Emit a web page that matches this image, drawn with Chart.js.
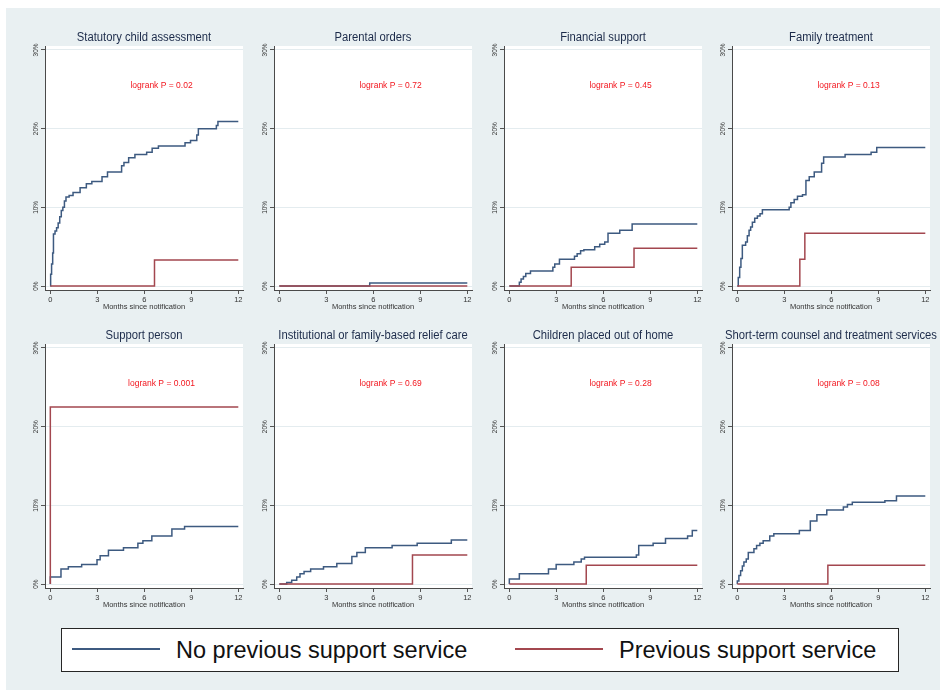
<!DOCTYPE html>
<html lang="en">
<head>
    <meta charset="UTF-8">
    <title>Cumulative incidence by previous support service</title>

    <!-- Chart.js -->
    <script src="https://cdn.jsdelivr.net/npm/chart.js"></script>

    <style>
        html, body {
            margin: 0;
            padding: 0;
            width: 940px;
            height: 690px;
            overflow: hidden;
            background: #fff;
            font-family: "Liberation Sans", Arial, sans-serif;
        }

        .frame {
            position: absolute;
            left: 6px;
            top: 8px;
            width: 940px;
            height: 690px;
            background: #e9f0f2;
        }

        canvas.panel {
            position: absolute;
        }

        .legend-box {
            position: absolute;
            left: 61px;
            top: 628px;
            width: 838px;
            height: 44px;
            box-sizing: border-box;
            background: #fff;
            border: 1.5px solid #262626;
        }

        .key-line {
            position: absolute;
            top: 648px;
            width: 88px;
            height: 2px;
        }

        .key-text {
            position: absolute;
            top: 637px;
            font-size: 23.5px;
            line-height: 27px;
            color: #111;
            white-space: nowrap;
        }
    </style>
</head>
<body>
    <div class="frame"></div>
    <div id="panels"></div>

    <div class="legend-box"></div>
    <div class="key-line" style="left:72px; background:#3d5a80;"></div>
    <div class="key-text" style="left:176px;">No previous support service</div>
    <div class="key-line" style="left:515px; background:#a3474f;"></div>
    <div class="key-text" style="left:619px;">Previous support service</div>

    <script>
        // Axis ticks
        const xTicks = [0, 3, 6, 9, 12];
        const yTicks = [0, 10, 20, 30];

        const titles = [
            'Statutory child assessment', 'Parental orders', 'Financial support', 'Family treatment',
            'Support person', 'Institutional or family-based relief care', 'Children placed out of home',
            'Short-term counsel and treatment services'
        ];
        const pValues = ['0.02', '0.72', '0.45', '0.13', '0.001', '0.69', '0.28', '0.08'];

        // [months, cumulative %] — no previous support service (blue) / previous (red)
        const assessNoPrev = [[0,0],[0.02,1.5],[0.08,2.8],[0.15,4.2],[0.2,6.6],[0.3,7.0],[0.4,7.4],[0.5,8.0],[0.6,8.8],[0.7,9.6],[0.8,10.0],[0.9,10.8],[1.0,11.3],[1.2,11.5],[1.45,11.9],[1.9,12.5],[2.3,13.0],[2.65,13.3],[3.3,13.9],[3.65,14.5],[4.55,15.3],[4.7,15.7],[5.0,16.3],[5.4,16.7],[6.15,17.0],[6.5,17.5],[6.9,17.8],[8.6,18.2],[8.95,18.5],[9.35,19.2],[9.45,20.0],[10.6,20.4],[10.7,20.9],[12,20.9]];
        const assessPrev = [[0,0],[6.65,3.3],[12,3.3]];

        const ordersNoPrev = [[0,0],[5.77,0.4],[12,0.4]];
        const ordersPrev = [[0,0],[12,0]];

        const financeNoPrev = [[0,0],[0.64,0.5],[0.75,0.9],[0.9,1.2],[1.05,1.6],[1.35,1.9],[2.78,2.4],[2.9,2.8],[3.2,3.4],[4.16,3.8],[4.33,4.1],[4.55,4.5],[4.76,4.6],[5.45,5.0],[5.77,5.3],[6.09,5.6],[6.3,6.7],[7.05,7.1],[7.84,7.9],[12,7.9]];
        const financePrev = [[0,0],[3.95,2.4],[7.96,4.8],[12,4.8]];

        const familyNoPrev = [[0,0],[0.06,1.1],[0.15,2.4],[0.23,3.5],[0.32,5.2],[0.53,5.6],[0.64,6.4],[0.75,7.1],[0.85,7.5],[0.96,8.1],[1.11,8.6],[1.28,8.9],[1.45,9.2],[1.6,9.7],[3.31,10.0],[3.42,10.6],[3.63,11.0],[3.84,11.4],[4.16,11.6],[4.38,13.4],[4.59,13.9],[4.91,14.5],[5.38,15.6],[5.51,16.4],[6.88,16.7],[8.54,17.0],[8.9,17.6],[12,17.6]];
        const familyPrev = [[0,0],[3.99,3.4],[4.31,6.7],[12,6.7]];

        const supportNoPrev = [[0,0],[0,0.9],[0.68,1.9],[1.15,2.2],[2.0,2.5],[2.98,3.1],[3.18,3.6],[3.71,4.3],[4.67,4.6],[5.59,5.2],[5.91,5.5],[6.48,6.1],[7.76,7.0],[8.57,7.3],[12,7.3]];
        const supportPrev = [[0,0],[0,22.5],[12,22.5]];

        const reliefNoPrev = [[0,0],[0.47,0.2],[0.79,0.5],[1.11,0.9],[1.32,1.3],[1.58,1.6],[2.0,1.9],[2.82,2.2],[3.67,2.6],[4.63,3.5],[4.95,4.0],[5.49,4.6],[7.2,4.9],[8.8,5.2],[10.98,5.6],[12,5.6]];
        const reliefPrev = [[0,0],[8.5,3.7],[12,3.7]];

        const placedNoPrev = [[0,0],[0,0.64],[0.64,1.3],[2.5,1.9],[2.99,2.5],[4.12,2.8],[4.59,3.2],[4.8,3.4],[8.11,3.7],[8.26,4.9],[9.18,5.2],[9.97,5.8],[11.38,6.1],[11.68,6.8],[12,6.8]];
        const placedPrev = [[0,0],[4.91,2.4],[12,2.4]];

        const counselNoPrev = [[0,0],[0,0.4],[0.1,1.1],[0.21,1.7],[0.32,2.3],[0.42,2.8],[0.57,3.2],[0.7,4.0],[1.06,4.5],[1.23,4.9],[1.44,5.2],[1.65,5.5],[2.07,6.1],[2.33,6.4],[3.96,6.8],[4.66,8.0],[5.08,8.8],[5.71,9.4],[6.77,9.8],[7.03,10.1],[7.34,10.4],[9.42,10.6],[10.16,11.2],[12,11.2]];
        const counselPrev = [[0,0],[5.78,2.4],[12,2.4]];

        const noPrevSeries = [assessNoPrev, ordersNoPrev, financeNoPrev, familyNoPrev, supportNoPrev, reliefNoPrev, placedNoPrev, counselNoPrev];
        const prevSeries = [assessPrev, ordersPrev, financePrev, familyPrev, supportPrev, reliefPrev, placedPrev, counselPrev];

        // Where the logrank label sits, in data units
        const pLabelAt = { x: 7.1, y: 25.4 };

        // Panel placement (y-axis line x, plot top y)
        const axisX = [45, 274, 504, 732];
        const plotTop = [46, 343.5];
        const plotW = 198, plotH = 244;
        const padL = 5, yAxisW = 30, padR = 12, titleH = 23, xAxisH = 22;

        const BLUE = '#3d5a80';
        const RED = '#a3474f';
        const FONT = '"Liberation Sans", Arial, sans-serif';

        // white plot region, panel title and the logrank text
        const panelDeco = {
            id: 'panelDeco',
            beforeDraw(chart, args, opts) {
                const a = chart.chartArea;
                const ctx = chart.ctx;
                ctx.save();
                ctx.fillStyle = '#fff';
                ctx.fillRect(a.left, a.top, a.right - a.left, a.bottom - a.top);
                // titles in the original are set a little narrow
                ctx.translate((a.left + a.right) / 2, a.top - 8);
                ctx.scale(0.9, 1);
                ctx.fillStyle = '#1c2b4a';
                ctx.font = '12.5px ' + FONT;
                ctx.textAlign = 'center';
                ctx.textBaseline = 'middle';
                ctx.fillText(opts.title, 0, 0);
                ctx.restore();
            },
            afterDatasetsDraw(chart, args, opts) {
                const ctx = chart.ctx;
                const x = chart.scales.x.getPixelForValue(pLabelAt.x);
                const y = chart.scales.y.getPixelForValue(pLabelAt.y);
                ctx.save();
                ctx.fillStyle = '#f2161e';
                ctx.font = '8.5px ' + FONT;
                ctx.textAlign = 'center';
                ctx.textBaseline = 'middle';
                ctx.fillText('logrank P = ' + opts.p, x, y);
                ctx.restore();
            }
        };

        function toPoints(arr) {
            return arr.map(p => ({ x: p[0], y: p[1] }));
        }

        const holder = document.getElementById('panels');

        titles.forEach((title, i) => {
            const col = i % 4, row = Math.floor(i / 4);
            const canvas = document.createElement('canvas');
            canvas.className = 'panel';
            const w = padL + yAxisW + plotW + padR;
            const h = titleH + plotH + xAxisH;
            canvas.width = w;
            canvas.height = h;
            canvas.style.left = (axisX[col] - padL - yAxisW) + 'px';
            canvas.style.top = (plotTop[row] - titleH) + 'px';
            holder.appendChild(canvas);

            new Chart(canvas.getContext('2d'), {
                type: 'line',
                data: {
                    datasets: [{
                        label: 'Previous support service',
                        data: toPoints(prevSeries[i]),
                        borderColor: RED,
                        borderWidth: 1.5,
                        stepped: true,
                        pointRadius: 0,
                        fill: false,
                        order: 0
                    }, {
                        label: 'No previous support service',
                        data: toPoints(noPrevSeries[i]),
                        borderColor: BLUE,
                        borderWidth: 1.5,
                        stepped: true,
                        pointRadius: 0,
                        fill: false,
                        order: 1
                    }]
                },
                options: {
                    responsive: false,
                    animation: false,
                    events: [],
                    layout: { padding: { left: padL, right: padR, top: titleH, bottom: 0 } },
                    plugins: {
                        legend: { display: false },
                        tooltip: { enabled: false },
                        title: { display: false },
                        panelDeco: { title: title, p: pValues[i] }
                    },
                    scales: {
                        x: {
                            type: 'linear',
                            min: -0.34,
                            max: 12.3,
                            afterBuildTicks: s => { s.ticks = xTicks.map(v => ({ value: v })); },
                            afterFit: s => { s.height = xAxisH; },
                            grid: { drawOnChartArea: false, drawTicks: true, tickLength: 4, tickColor: '#555' },
                            border: { display: true, color: '#4a4a4a', width: 1 },
                            ticks: { padding: 1, color: '#333', font: { size: 7.5, family: FONT }, maxRotation: 0 },
                            title: {
                                display: true,
                                text: 'Months since notification',
                                color: '#333',
                                font: { size: 7.5, family: FONT },
                                padding: { top: 0, bottom: 0.5 }
                            }
                        },
                        y: {
                            type: 'linear',
                            min: -0.5,
                            max: 30.5,
                            afterBuildTicks: s => { s.ticks = yTicks.map(v => ({ value: v })); },
                            afterFit: s => { s.width = yAxisW; },
                            grid: { color: '#e4ecef', lineWidth: 1, drawTicks: true, tickLength: 4, tickColor: '#555' },
                            border: { display: true, color: '#4a4a4a', width: 1 },
                            ticks: {
                                padding: -2,
                                minRotation: 90,
                                maxRotation: 90,
                                crossAlign: 'center',
                                color: '#333',
                                font: { size: 6.5, family: FONT },
                                callback: v => v + '%'
                            }
                        }
                    }
                },
                plugins: [panelDeco]
            });
        });
    </script>
</body>
</html>
